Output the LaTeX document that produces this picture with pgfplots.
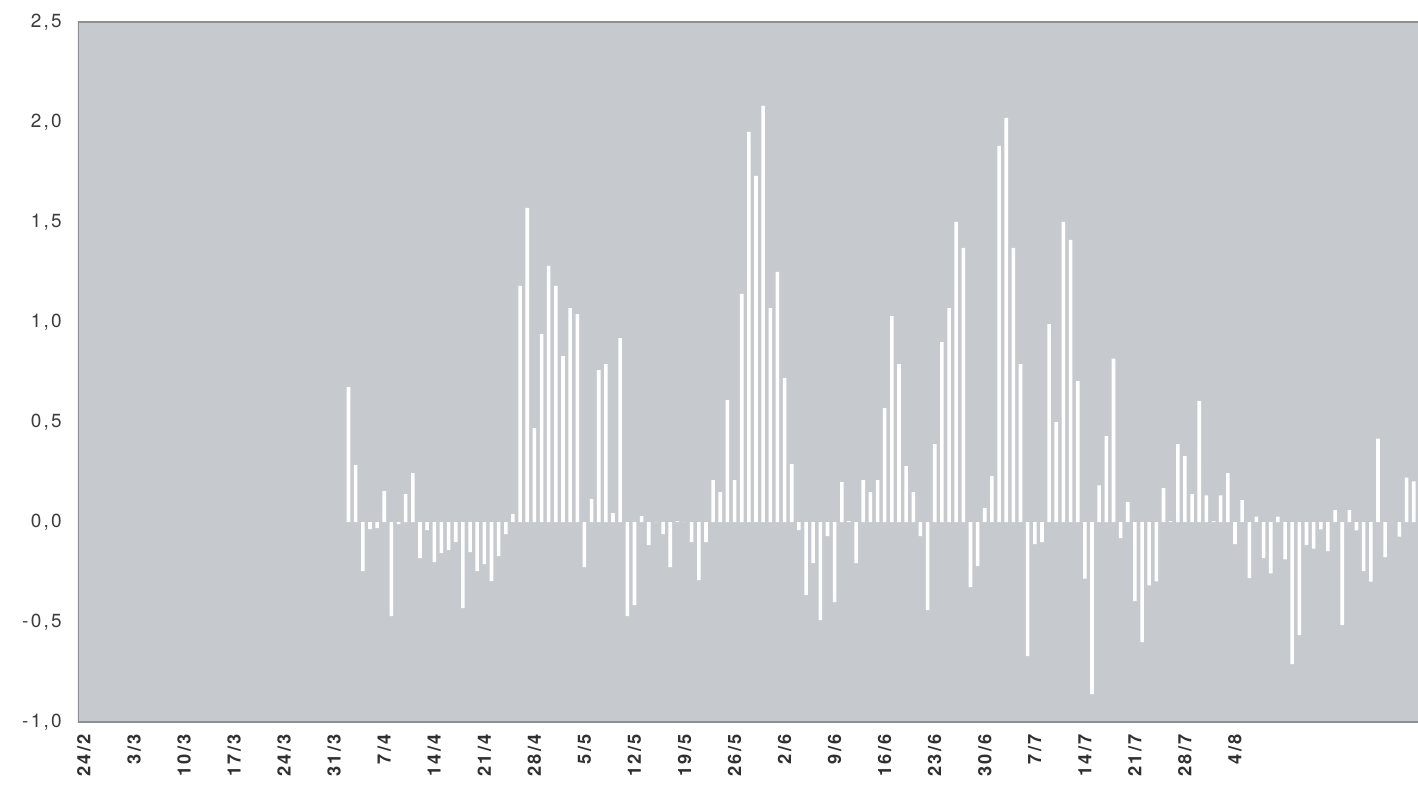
\documentclass[border=0pt]{standalone}
\usepackage{pgfplots}
\pgfplotsset{compat=1.18}
\usepackage{fontspec}
\setmainfont{TeX Gyre Heros}
\newfontfamily\labfont[LetterSpace=12]{TeX Gyre Heros}

\definecolor{plotbg}{RGB}{198,202,206}
\definecolor{framecol}{RGB}{140,143,147}
\definecolor{labcol}{RGB}{60,60,60}

\begin{document}
\begin{tikzpicture}
\begin{axis}[
    at={(0,0)}, anchor=south west,
    width=335mm, height=175mm, scale only axis,
    xmin=-0.84, xmax=186.6,
    ymin=-1, ymax=2.5,
    axis line style={draw=none},
    axis background/.style={fill=plotbg},
    major tick length=0pt,
    tick style={draw=none},
    ytick={-1,-0.5,0,0.5,1,1.5,2,2.5},
    yticklabels={{-1,0},{-0,5},{0,0},{0,5},{1,0},{1,5},{2,0},{2,5}},
    xtick={0,7,...,161},
    xticklabels={24/2,3/3,10/3,17/3,24/3,31/3,7/4,14/4,21/4,28/4,5/5,12/5,19/5,26/5,2/6,9/6,16/6,23/6,30/6,7/7,14/7,21/7,28/7,4/8},
    yticklabel style={anchor=east, inner sep=0pt, xshift=-4mm,
        font=\labfont\fontsize{13.5}{16}\selectfont, text=labcol},
    xticklabel style={rotate=90, anchor=east, inner sep=3mm,
        font=\labfont\bfseries\fontsize{13}{16}\selectfont, text=labcol!80!black},
    ybar, bar width=0.5,
]
% daily values, day 0 = 24/2
\addplot[fill=white, draw=none] coordinates {
(37,0.675) (38,0.285) (39,-0.245) (40,-0.035) (41,-0.03) (42,0.155) (43,-0.47) (44,-0.01) (45,0.14) (46,0.245)
(47,-0.18) (48,-0.04) (49,-0.2) (50,-0.155) (51,-0.14) (52,-0.10) (53,-0.43) (54,-0.15) (55,-0.245) (56,-0.21)
(57,-0.295) (58,-0.17) (59,-0.06) (60,0.04) (61,1.18) (62,1.57) (63,0.47) (64,0.94) (65,1.28) (66,1.18)
(67,0.83) (68,1.07) (69,1.04) (70,-0.225) (71,0.115) (72,0.76) (73,0.79) (74,0.045) (75,0.92) (76,-0.47)
(77,-0.415) (78,0.03) (79,-0.115) (80,0) (81,-0.06) (82,-0.225) (83,0.005) (84,0) (85,-0.1) (86,-0.29)
(87,-0.1) (88,0.21) (89,0.15) (90,0.61) (91,0.21) (92,1.14) (93,1.95) (94,1.73) (95,2.08) (96,1.07)
(97,1.25) (98,0.72) (99,0.29) (100,-0.04) (101,-0.365) (102,-0.205) (103,-0.49) (104,-0.07) (105,-0.40) (106,0.20)
(107,0.005) (108,-0.205) (109,0.21) (110,0.15) (111,0.21) (112,0.57) (113,1.03) (114,0.79) (115,0.28) (116,0.15)
(117,-0.07) (118,-0.44) (119,0.39) (120,0.90) (121,1.07) (122,1.50) (123,1.37) (124,-0.325) (125,-0.22) (126,0.07)
(127,0.23) (128,1.88) (129,2.02) (130,1.37) (131,0.79) (132,-0.67) (133,-0.11) (134,-0.1) (135,0.99) (136,0.50)
(137,1.50) (138,1.41) (139,0.705) (140,-0.283) (141,-0.86) (142,0.183) (143,0.43) (144,0.817) (145,-0.08) (146,0.10)
(147,-0.395) (148,-0.60) (149,-0.317) (150,-0.297) (151,0.17) (152,0.005) (153,0.39) (154,0.33) (155,0.14) (156,0.605)
(157,0.133) (158,0.005) (159,0.133) (160,0.245) (161,-0.11) (162,0.11) (163,-0.28) (164,0.027) (165,-0.18) (166,-0.257)
(167,0.027) (168,-0.187) (169,-0.71) (170,-0.565) (171,-0.115) (172,-0.133) (173,-0.037) (174,-0.145) (175,0.06) (176,-0.515)
(177,0.06) (178,-0.042) (179,-0.245) (180,-0.298) (181,0.417) (182,-0.175) (183,0) (184,-0.073) (185,0.222) (186,0.203)
};
% frame on three sides, the right side is cut off
\draw[framecol, line width=0.8pt] (rel axis cs:1,1) -- (rel axis cs:0,1) -- (rel axis cs:0,0) -- (rel axis cs:1,0);
\end{axis}
\pgfresetboundingbox
\path (-19.5mm,-16.25mm) rectangle (335mm,180.5mm);
\end{tikzpicture}
\end{document}
